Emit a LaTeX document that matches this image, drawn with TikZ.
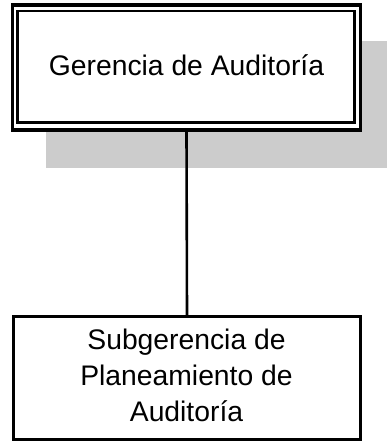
\documentclass[tikz,border=0pt]{standalone}
\usepackage{fontspec}
\setmainfont{Liberation Sans}
\begin{document}
\begin{tikzpicture}[x=1bp,y=-1bp,
  boxfont/.style={font=\fontsize{28.4}{36.1}\selectfont},
  outerbox/.style={draw=black,fill=white,line width=3.2bp,minimum width=348bp,minimum height=125bp,inner sep=0pt},
  subbox/.style={draw=black,fill=white,line width=2.8bp,minimum width=347bp,minimum height=123bp,inner sep=0pt},
  link/.style={draw=black,line width=2.6bp}]
\useasboundingbox (0,0) rectangle (387,441);
\fill[fill={rgb,255:red,204;green,204;blue,204}] (46,41) rectangle (387,168);
\node[outerbox] (ger) at (186.5,67.5) {};
\draw[black,line width=2.8bp] (17.5,11) rectangle (354.5,122.5);
\node[boxfont,anchor=base,inner sep=0pt] (gert) at (186.5,76) {Gerencia de Auditoría};
\node[subbox] (sub) at (187,378) {};
\node[boxfont,align=center,inner sep=0pt] (subt) at (186.5,375.7) {Subgerencia de\\Planeamiento de\\Auditoría};
\draw[link] (ger.south) -- (sub.north);
\end{tikzpicture}
\end{document}
